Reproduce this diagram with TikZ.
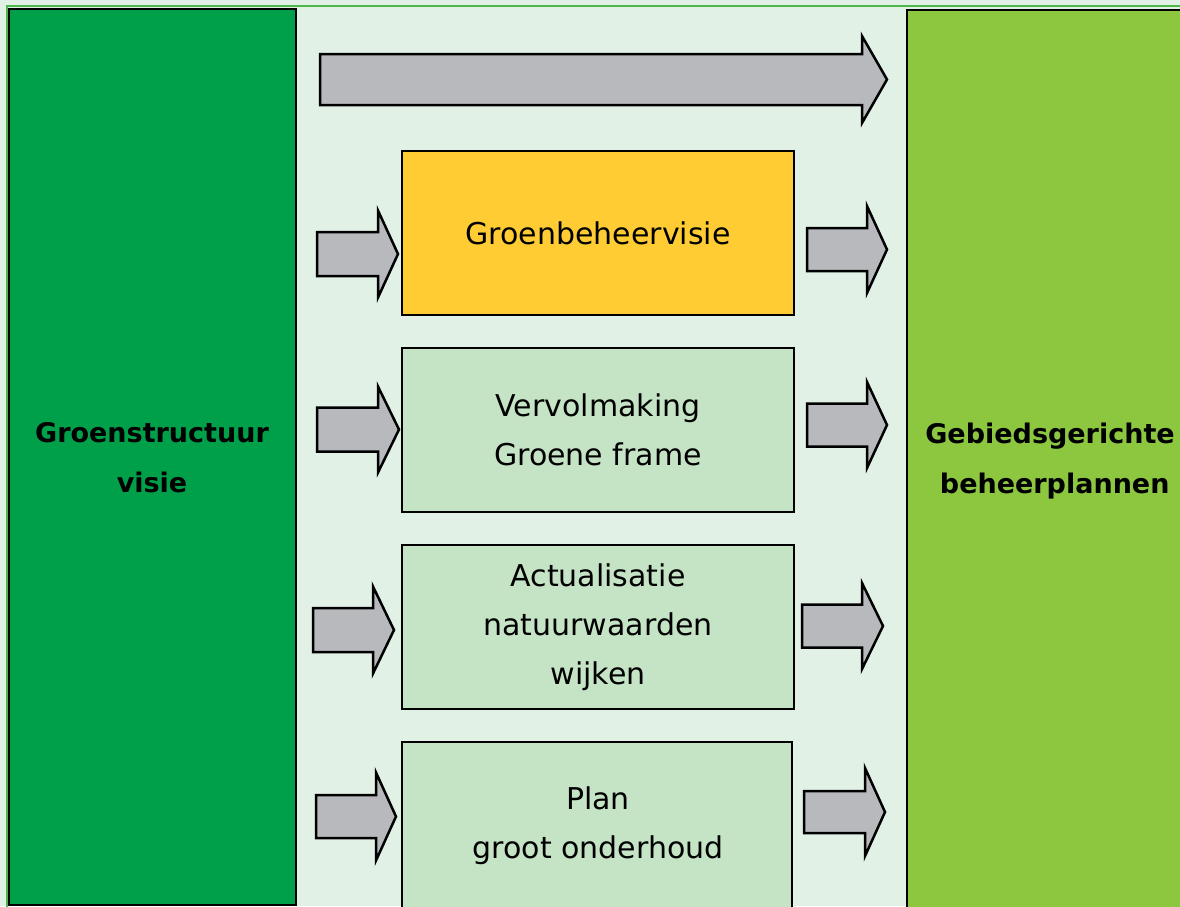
\documentclass[tikz,border=0pt]{standalone}
\usepackage{fontspec}
\setmainfont{DejaVu Sans}
\definecolor{bgmint}{RGB}{225,241,230}
\definecolor{framegreen}{RGB}{77,184,72}
\definecolor{darkcol}{RGB}{0,159,74}
\definecolor{lightcol}{RGB}{141,198,63}
\definecolor{boxyellow}{RGB}{255,204,51}
\definecolor{boxgreen}{RGB}{197,227,197}
\definecolor{arrowgray}{RGB}{183,185,188}
\tikzset{
  colbox/.style={draw=black, line width=2pt, inner sep=0pt},
  stepbox/.style={draw=black, line width=2pt, inner sep=0pt, align=center,
    minimum width=392pt, minimum height=164pt,
    font=\fontsize{30}{49}\selectfont},
  boxtext/.style={inner sep=0pt, align=center, font=\fontsize{30}{49}\selectfont},
  sidetext/.style={inner sep=0pt, align=center, font=\bfseries\fontsize{27}{50}\selectfont},
  blockarrow/.style={draw=black, fill=arrowgray, line width=2.5pt, line join=miter, miter limit=10}
}
% xL, xH, xT, yc, shaft half height, head half height
\newcommand\blockarr[6]{%
  \draw[blockarrow] (#1,#4-#5) -- (#2,#4-#5) -- (#2,#4-#6) -- (#3,#4)
    -- (#2,#4+#6) -- (#2,#4+#5) -- (#1,#4+#5) -- cycle;}
\begin{document}
\begin{tikzpicture}[x=1pt,y=-1pt]
\useasboundingbox (0,0) rectangle (1180,906);
\clip (0,0) rectangle (1180,906);
\fill[bgmint] (0,0) rectangle (1180,906);
\draw[framegreen, line width=2pt] (7,6.3) rectangle (1250,1000);

% side columns
\node[colbox, fill=darkcol, minimum width=287.3pt, minimum height=896.7pt] (left) at (152.35,456.85) {};
\node[sidetext] (lefttext) at (152,457.5) {Groenstructuur\\visie};
\node[colbox, fill=lightcol, minimum width=343pt, minimum height=990pt] (right) at (1078.5,505) {};
\node[sidetext] (righttext) at (1050,461.5) {Gebiedsgerichte\\\ beheerplannen};

% step boxes
\node[stepbox, fill=boxyellow] (b1) at (598,233) {Groenbeheervisie};
\node[stepbox, fill=boxgreen] (b2) at (598,430) {Vervolmaking\\Groene frame};
\node[stepbox, fill=boxgreen] (b3) at (598,627) {Actualisatie\\natuurwaarden\\wijken};
\node[colbox, fill=boxgreen, minimum width=390pt, minimum height=200pt] (b4) at (597,842) {};
\node[boxtext] (t4) at (598,825.5) {Plan\\groot onderhoud};

% top arrow
\blockarr{320}{862}{887}{79.5}{25.5}{43.5}
% left arrows
\blockarr{317}{378}{398}{254}{22}{43.5}
\blockarr{317}{378}{399}{429.5}{22}{43}
\blockarr{313}{373}{394}{630}{22}{43.5}
\blockarr{316}{376}{396}{816.5}{21.5}{44}
% right arrows
\blockarr{807}{867}{887}{249.5}{21.5}{43.5}
\blockarr{807}{867}{887}{425}{21.5}{43}
\blockarr{802}{862}{883}{626}{21.5}{43}
\blockarr{804}{865}{885}{812}{21}{44}
\end{tikzpicture}
\end{document}
